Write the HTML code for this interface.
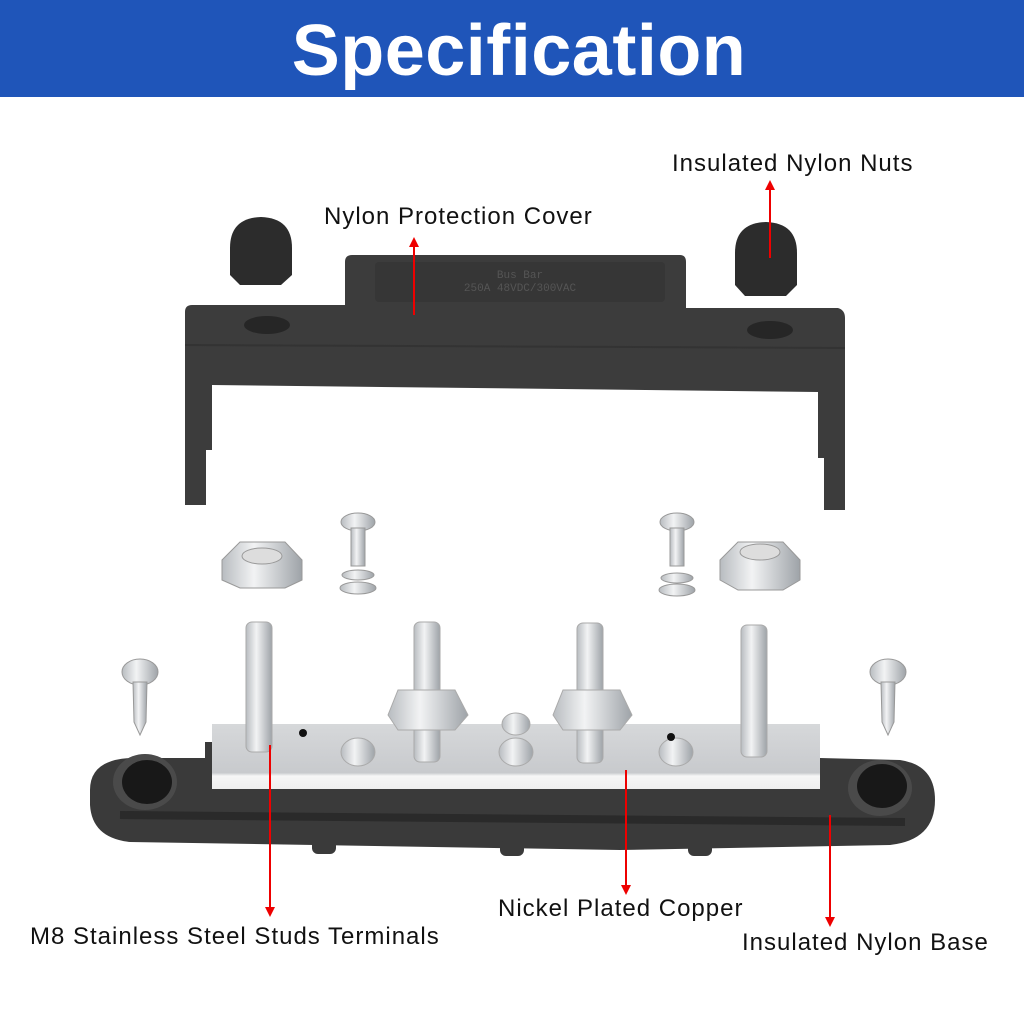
<!DOCTYPE html>
<html><head><meta charset="utf-8"><style>
body{margin:0;width:1024px;height:1024px;background:#fff;overflow:hidden;font-family:"Liberation Sans",sans-serif}
</style></head><body>
<svg width="1024" height="1024" viewBox="0 0 1024 1024" xmlns="http://www.w3.org/2000/svg">
<defs>
<linearGradient id="st" x1="0" x2="1"><stop offset="0" stop-color="#b8bcc0"/><stop offset=".4" stop-color="#f2f3f4"/><stop offset="1" stop-color="#9ea3a8"/></linearGradient>
<linearGradient id="pl" x1="0" y1="0" x2="0" y2="1"><stop offset="0" stop-color="#d6d8da"/><stop offset=".75" stop-color="#c8cacd"/><stop offset=".8" stop-color="#f6f6f6"/><stop offset="1" stop-color="#eeeeee"/></linearGradient>
<marker id="ar" viewBox="0 0 10 10" refX="5" refY="5" markerWidth="5" markerHeight="5" orient="auto"><path d="M0,0L10,5L0,10z" fill="#e00"/></marker>
</defs>
<rect x="0" y="0" width="1024" height="97" fill="#1f55b9"/>
<text x="519" y="75" text-anchor="middle" font-size="72" letter-spacing="0.5" font-weight="bold" fill="#fff">Specification</text>

<path d="M345,262 Q345,255 352,255 L680,255 Q686,255 686,262 L686,308 L838,308 Q845,310 845,318 L845,510 L824,510 L824,458 L818,458 L818,392 L212,385 L212,450 L206,450 L206,505 L185,505 L185,312 Q185,305 192,305 L345,305 Z" fill="#3c3c3c"/>
<path d="M185,345 L845,348" stroke="#333" stroke-width="2"/>
<rect x="375" y="262" width="290" height="40" rx="4" fill="#363636"/>
<text x="520" y="278" text-anchor="middle" font-size="11" fill="#555" font-family="Liberation Mono">Bus Bar</text>
<text x="520" y="291" text-anchor="middle" font-size="11" fill="#555" font-family="Liberation Mono">250A 48VDC/300VAC</text>
<ellipse cx="267" cy="325" rx="23" ry="9" fill="#262626"/>
<ellipse cx="770" cy="330" rx="23" ry="9" fill="#262626"/>
<path d="M230,248 Q230,218 261,217 Q292,218 292,248 L292,275 L281,285 L240,285 L230,275Z" fill="#2c2c2c"/>
<path d="M735,253 Q735,223 766,222 Q797,223 797,253 L797,285 L786,296 L745,296 L735,285Z" fill="#2c2c2c"/>

<g fill="url(#st)" stroke="#999" stroke-width="1">
<path d="M222,560 L240,542 L285,542 L302,560 L302,580 L285,588 L240,588 L222,580Z"/>
<ellipse cx="262" cy="556" rx="20" ry="8" fill="#ddd"/>
<path d="M720,560 L738,542 L783,542 L800,560 L800,580 L783,590 L738,590 L720,580Z"/>
<ellipse cx="760" cy="552" rx="20" ry="8" fill="#ddd"/>
<ellipse cx="358" cy="522" rx="17" ry="9"/><rect x="351" y="528" width="14" height="38"/>
<ellipse cx="358" cy="575" rx="16" ry="5"/><ellipse cx="358" cy="588" rx="18" ry="6"/>
<ellipse cx="677" cy="522" rx="17" ry="9"/><rect x="670" y="528" width="14" height="38"/>
<ellipse cx="677" cy="578" rx="16" ry="5"/><ellipse cx="677" cy="590" rx="18" ry="6"/>
<ellipse cx="140" cy="672" rx="18" ry="13"/><path d="M133,682 L147,682 L146,722 L140,735 L134,722Z"/>
<ellipse cx="888" cy="672" rx="18" ry="13"/><path d="M881,682 L895,682 L894,722 L888,735 L882,722Z"/>
</g>

<path d="M90,790 Q90,760 130,758 L215,758 L215,768 L820,768 L820,758 L900,760 Q935,765 935,800 Q935,840 890,845 L620,850 L130,842 Q92,838 90,805Z" fill="#3a3a3a"/>
<path d="M120,815 L905,822" stroke="#2a2a2a" stroke-width="8"/>
<ellipse cx="145" cy="782" rx="32" ry="28" fill="#4a4a4a"/><ellipse cx="147" cy="782" rx="25" ry="22" fill="#181818"/>
<ellipse cx="880" cy="788" rx="32" ry="28" fill="#4a4a4a"/><ellipse cx="882" cy="786" rx="25" ry="22" fill="#181818"/>
<rect x="312" y="838" width="24" height="16" rx="6" fill="#3a3a3a"/>
<rect x="500" y="840" width="24" height="16" rx="6" fill="#3a3a3a"/>
<rect x="688" y="840" width="24" height="16" rx="6" fill="#3a3a3a"/>
<rect x="205" y="742" width="615" height="50" fill="#3a3a3a"/>
<rect x="212" y="724" width="608" height="65" fill="url(#pl)"/>
<g fill="url(#st)" stroke="#aaa" stroke-width="1">
<rect x="246" y="622" width="26" height="130" rx="6"/>
<rect x="741" y="625" width="26" height="132" rx="6"/>
<rect x="414" y="622" width="26" height="140" rx="6"/>
<rect x="577" y="623" width="26" height="140" rx="6"/>
<path d="M388,715 L398,690 L455,690 L468,715 L455,730 L398,730Z"/>
<path d="M553,715 L563,690 L620,690 L632,715 L620,730 L563,730Z"/>
<ellipse cx="358" cy="752" rx="17" ry="14"/>
<ellipse cx="676" cy="752" rx="17" ry="14"/>
<ellipse cx="516" cy="724" rx="14" ry="11"/><ellipse cx="516" cy="752" rx="17" ry="14"/>
</g>
<circle cx="303" cy="733" r="4" fill="#111"/><circle cx="671" cy="737" r="4" fill="#111"/>

<g stroke="#e00" stroke-width="2" fill="none" marker-end="url(#ar)">
<line x1="414" y1="315" x2="414" y2="242"/>
<line x1="770" y1="258" x2="770" y2="185"/>
<line x1="270" y1="745" x2="270" y2="912"/>
<line x1="626" y1="770" x2="626" y2="890"/>
<line x1="830" y1="815" x2="830" y2="922"/>
</g>
<g font-size="24" fill="#111" letter-spacing="1">
<text x="324" y="224">Nylon Protection Cover</text>
<text x="672" y="171">Insulated Nylon Nuts</text>
<text x="30" y="944">M8 Stainless Steel Studs Terminals</text>
<text x="498" y="916">Nickel Plated Copper</text>
<text x="742" y="950">Insulated Nylon Base</text>
</g>
</svg>
</body></html>
